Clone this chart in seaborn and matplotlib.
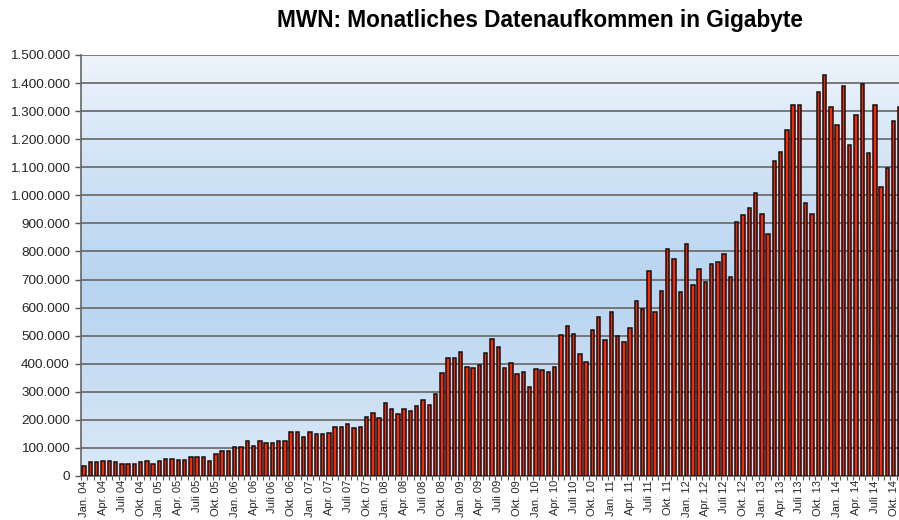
import numpy as np
import pandas as pd
import matplotlib
matplotlib.use('Agg')
import matplotlib.pyplot as plt
from matplotlib.colors import LinearSegmentedColormap
from matplotlib.ticker import FuncFormatter, MultipleLocator
import seaborn as sns

# Monatliches Datenaufkommen (GB), Jan. 04 bis Nov. 14
jahre = list(range(2004, 2015))
monate = ['Jan.', 'Feb.', 'März', 'Apr.', 'Mai', 'Juni', 'Juli', 'Aug.', 'Sep.', 'Okt.', 'Nov.', 'Dez.']

werte = [
    # 2004
    36000, 50000, 50000, 53000, 55000, 50000, 44000, 42000, 42000, 50000, 55000, 44000,
    # 2005
    54000, 61000, 59000, 58000, 57000, 66000, 67000, 66000, 55000, 79000, 90000, 90000,
    # 2006
    105000, 105000, 126000, 107000, 124000, 118000, 118000, 124000, 126000, 156000, 156000, 139000,
    # 2007
    156000, 148000, 150000, 153000, 176000, 174000, 185000, 170000, 174000, 211000, 224000, 205000,
    # 2008
    261000, 237000, 221000, 239000, 231000, 250000, 270000, 252000, 292000, 368000, 421000, 421000,
    # 2009
    442000, 387000, 385000, 396000, 439000, 487000, 458000, 385000, 401000, 364000, 370000, 318000,
    # 2010
    381000, 377000, 370000, 388000, 502000, 533000, 505000, 433000, 405000, 520000, 568000, 483000,
    # 2011
    585000, 498000, 476000, 529000, 625000, 594000, 731000, 583000, 660000, 810000, 774000, 655000,
    # 2012
    825000, 679000, 737000, 692000, 757000, 763000, 792000, 708000, 906000, 929000, 955000, 1007000,
    # 2013
    935000, 863000, 1124000, 1155000, 1233000, 1323000, 1323000, 974000, 935000, 1367000, 1430000, 1313000,
    # 2014
    1249000, 1390000, 1181000, 1286000, 1398000, 1150000, 1323000, 1029000, 1098000, 1265000, 1315000,
]

labels = [f'{m} {str(j)[2:]}' for j in jahre for m in monate][:len(werte)]
df = pd.DataFrame({'Monat': labels, 'GB': werte})

sns.set_theme(style='white')
plt.rcParams['font.family'] = ['Liberation Sans', 'DejaVu Sans']

fig = plt.figure(figsize=(8.99, 5.2), dpi=100)
n_slots = 132
ax_w = n_slots * 6.275 / 899
ax = fig.add_axes([81 / 899, 44 / 520, ax_w, 421 / 520])

# Hintergrund-Verlauf
bg = LinearSegmentedColormap.from_list('bg', [(0.0, '#dbe9f7'), (0.45, '#b7d4f0'), (0.75, '#d2e4f6'), (1.0, '#eef4fb')])
grad = np.linspace(0, 1, 256).reshape(-1, 1)
ax.imshow(grad, cmap=bg, aspect='auto', origin='lower', extent=[0, 1, 0, 1],
          transform=ax.transAxes, zorder=0)

sns.barplot(data=df, x='Monat', y='GB', color='#ff2600', saturation=1,
            edgecolor='#111111', linewidth=1.1, width=0.55, ax=ax, zorder=3)

ax.set_xlim(-0.5, n_slots - 0.5)
ax.set_ylim(0, 1500000)
ax.yaxis.set_major_locator(MultipleLocator(100000))
ax.yaxis.set_major_formatter(FuncFormatter(lambda v, p: f'{int(v):,}'.replace(',', '.')))
ax.grid(axis='y', color='#6f6f6f', linewidth=1.3, zorder=1)
ax.set_axisbelow(True)

ticks = list(range(0, len(labels), 3))
ax.set_xticks(ticks)
ax.set_xticklabels([labels[i] for i in ticks], rotation=90, fontsize=8)
ax.set_xticks(np.arange(-0.5, n_slots, 1), minor=True)
ax.tick_params(axis='x', which='major', length=0, pad=3)
ax.tick_params(axis='x', which='minor', length=3, width=0.8, color='#555555', direction='out', bottom=True)
ax.tick_params(axis='y', length=4, width=1, color='#555555', direction='out', left=True, labelsize=9.7, pad=4)
ax.set_xlabel('')
ax.set_ylabel('')

for s in ['top', 'right']:
    ax.spines[s].set_visible(False)
ax.spines['left'].set_color('#666666')
ax.spines['left'].set_linewidth(1.2)
ax.spines['bottom'].set_color('#666666')
ax.spines['bottom'].set_linewidth(1.2)

fig.text(540 / 899, 1 - 21 / 520, 'MWN: Monatliches Datenaufkommen in Gigabyte',
         ha='center', va='center', fontsize=16.3, fontweight='bold', color='black')

fig.savefig('out.png', dpi=100)
